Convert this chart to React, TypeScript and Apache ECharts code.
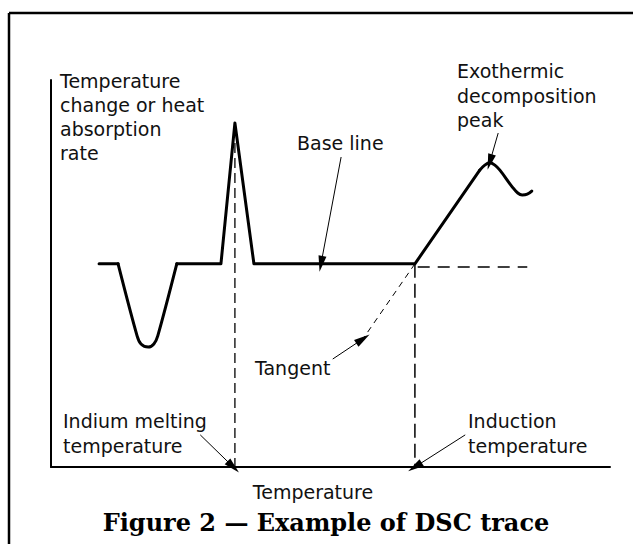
import React, { useEffect, useRef } from "react";
import * as echarts from "echarts";

// DSC trace (arbitrary units: x = temperature 0..100, y = signal 0..100)
const traceLeadIn = [[8.6, 52.5], [12.0, 52.5]];
const endothermDip = [[12.0, 52.5], [15.4, 33.9], [16.1, 31.8], [17.4, 31.0], [18.4, 31.8], [19.1, 33.9], [22.5, 52.5]];
const indiumPeakAndBaseline = [[22.5, 52.5], [30.4, 52.5], [32.9, 88.9], [36.3, 52.5], [65.1, 52.5], [76.7, 76.7]];
const exothermPeak = [[76.7, 76.7], [77.6, 78.0], [78.5, 78.6], [79.4, 78.0], [80.3, 76.7], [82.5, 72.4], [83.5, 70.8], [84.3, 70.3], [85.2, 70.5], [86.0, 71.3]];

// Construction lines
const indiumMarker = [[32.9, 83.7], [32.9, 0]];
const inductionMarker = [[65.1, 52.5], [65.1, 0]];
const baselineExtension = [[65.6, 51.7], [85.2, 51.7]];
const tangentLine = [[65.1, 52.5], [55.8, 33.1]];

// Annotation arrows [from, to]
const arrows = [
  [[51.9, 80.1], [48.3, 52.5]], // Base line
  [[80.0, 86.3], [78.5, 78.8]], // Exothermic peak
  [[50.4, 27.9], [55.8, 33.1]], // Tangent
  [[26.7, 8.3], [32.6, 0]], // Indium melting temperature
  [[74.1, 8.3], [65.1, 0]], // Induction temperature
];

const yAxisLabel = "Temperature\nchange or heat\nabsorption\nrate";
const xAxisLabel = "Temperature";
const baseLineLabel = "Base line";
const exoLabel = "Exothermic\ndecomposition\npeak";
const tangentLabel = "Tangent";
const indiumLabel = "Indium melting\ntemperature";
const inductionLabel = "Induction\ntemperature";
const figureTitle = "Figure 2 \u2014 Example of DSC trace";

const LABEL_FONT = '"DejaVu Sans", sans-serif';

export default function App() {
  const ref = useRef<HTMLDivElement>(null);
  useEffect(() => {
    if (!ref.current) return;
    const chart = echarts.init(ref.current, null, { renderer: "svg" });
    const trace = { color: "#000", width: 3, join: "round", cap: "round" };
    const lbl = (text: string, x: number, y: number, lh = 24) => ({
      type: "text",
      x,
      y,
      style: {
        text,
        fill: "#111",
        fontFamily: LABEL_FONT,
        fontSize: 19,
        lineHeight: lh,
        align: "left",
        verticalAlign: "top",
      },
    });
    chart.setOption({
      animation: false,
      backgroundColor: "#fff",
      grid: { left: 51, right: 23, top: 80, bottom: 77 },
      xAxis: {
        type: "value",
        min: 0,
        max: 100,
        axisLine: { show: true, onZero: false, lineStyle: { color: "#000", width: 2 } },
        axisTick: { show: false },
        axisLabel: { show: false },
        splitLine: { show: false },
      },
      yAxis: {
        type: "value",
        min: 0,
        max: 100,
        axisLine: { show: true, onZero: false, lineStyle: { color: "#000", width: 2 } },
        axisTick: { show: false },
        axisLabel: { show: false },
        splitLine: { show: false },
      },
      series: [
        {
          type: "line",
          data: traceLeadIn,
          symbol: "none",
          lineStyle: trace,
          markLine: {
            silent: true,
            symbol: ["none", "triangle"],
            symbolSize: [8, 16],
            lineStyle: { color: "#000", width: 1, type: "solid" },
            itemStyle: { color: "#000" },
            label: { show: false },
            emphasis: { disabled: true },
            data: arrows.map((a) => [{ coord: a[0] }, { coord: a[1] }]),
          },
        },
        { type: "line", data: endothermDip, symbol: "none", smooth: 0.3, lineStyle: trace },
        { type: "line", data: indiumPeakAndBaseline, symbol: "none", lineStyle: trace },
        { type: "line", data: exothermPeak, symbol: "none", smooth: 0.4, lineStyle: trace },
        { type: "line", data: indiumMarker, symbol: "none", lineStyle: { color: "#000", width: 1.3, type: [10, 5] } },
        { type: "line", data: inductionMarker, symbol: "none", lineStyle: { color: "#000", width: 1.5, type: [14, 6] } },
        { type: "line", data: baselineExtension, symbol: "none", lineStyle: { color: "#000", width: 1.5, type: [12, 8] } },
        { type: "line", data: tangentLine, symbol: "none", lineStyle: { color: "#000", width: 1, type: [6, 5] } },
      ],
      graphic: [
        { type: "line", shape: { x1: 9, y1: 13, x2: 633, y2: 13 }, style: { stroke: "#000", lineWidth: 2.5 } },
        { type: "line", shape: { x1: 9, y1: 13, x2: 9, y2: 544 }, style: { stroke: "#000", lineWidth: 2.5 } },
        lbl(yAxisLabel, 60, 69),
        lbl(baseLineLabel, 297, 131),
        lbl(exoLabel, 457, 59, 24.5),
        lbl(tangentLabel, 255, 356),
        lbl(indiumLabel, 63, 408, 25),
        lbl(inductionLabel, 468, 408.5, 25),
        {
          type: "text",
          x: 313,
          y: 492,
          style: { text: xAxisLabel, fill: "#111", fontFamily: LABEL_FONT, fontSize: 19, align: "center", verticalAlign: "middle" },
        },
        {
          type: "text",
          x: 326,
          y: 522,
          style: {
            text: figureTitle,
            fill: "#000",
            fontFamily: '"DejaVu Serif", serif',
            fontWeight: "bold",
            fontSize: 24,
            align: "center",
            verticalAlign: "middle",
          },
        },
      ],
    });
    return () => chart.dispose();
  }, []);
  return (
    <div
      ref={ref}
      style={{ position: "fixed", left: 0, top: 0, width: 633, height: 544, background: "#fff" }}
    />
  );
}
